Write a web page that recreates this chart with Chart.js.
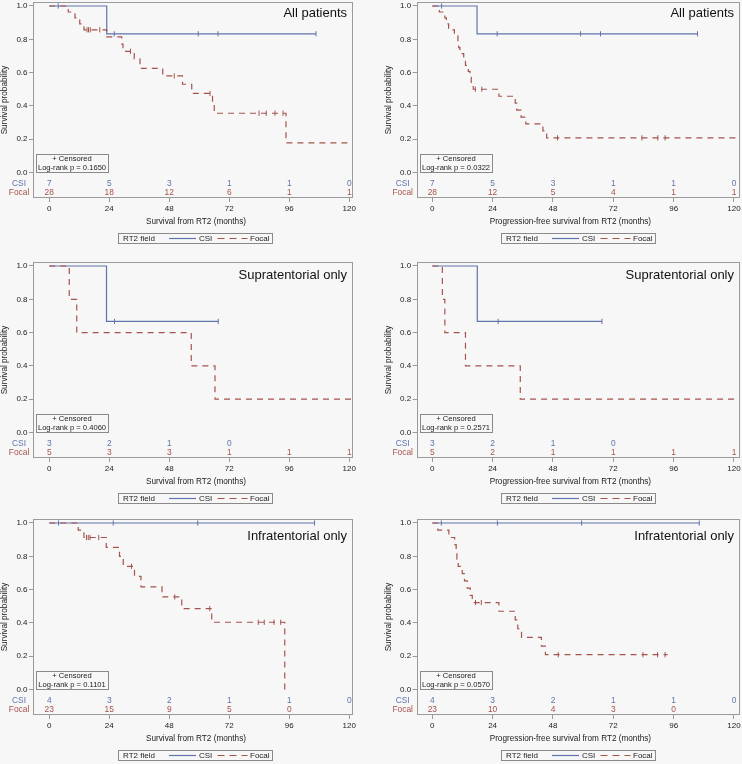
<!DOCTYPE html>
<html lang="en">
<head>
<meta charset="UTF-8">
<title>Survival from RT2 by RT2 field</title>
<script src="https://cdn.jsdelivr.net/npm/chart.js"></script>
<style>
  html, body { margin: 0; padding: 0; background: #f7f7f7; overflow: hidden; }
  #page { position: relative; width: 742px; height: 764px; }
  #page canvas { position: absolute; }
</style>
</head>
<body>
<div id="page"></div>
<script>
// shared axes
const xTicks = [0, 24, 48, 72, 96, 120];
const yTicks = [0, 0.2, 0.4, 0.6, 0.8, 1.0];
const riskTimes = [0, 24, 48, 72, 96, 120];

// A: survival, all patients
const aCsiTime = [0, 23];
const aCsiSurv = [1, 0.833];
const aCsiEnd = 106.7;
const aCsiCens = [3.6, 26, 59.6, 67.5, 106.7];
const aFocalTime = [0, 7.6, 10.3, 12.2, 13.9, 23, 29, 29.5, 34, 36.3, 45.4, 53.3, 57, 65.3, 66, 94.7];
const aFocalSurv = [1, 0.964, 0.929, 0.893, 0.857, 0.814, 0.771, 0.728, 0.683, 0.625, 0.58, 0.53, 0.475, 0.415, 0.356, 0.178];
const aFocalEnd = 121;
const aFocalCens = [15.1, 15.7, 16.4, 20.2, 32.5, 50, 64.3, 83.9, 86.8, 90.3, 93.5];
const aRiskCsi = [7, 5, 3, 1, 1, 0];
const aRiskFocal = [28, 18, 12, 6, 1, 1];

// B: progression-free survival, all patients
const bCsiTime = [0, 17.8];
const bCsiSurv = [1, 0.833];
const bCsiEnd = 105.5;
const bCsiCens = [3.7, 25.8, 59, 66.9, 105.5];
const bFocalTime = [0, 2.8, 5.0, 5.6, 6.5, 8.8, 10.2, 10.5, 11.0, 12.5, 13.2, 14.3, 15.0, 15.5, 16.3, 26.5, 33, 33.6, 35.3, 37.2, 44, 45.5];
const bFocalSurv = [1, 0.964, 0.929, 0.893, 0.857, 0.821, 0.786, 0.75, 0.714, 0.679, 0.643, 0.607, 0.571, 0.536, 0.5, 0.458, 0.417, 0.375, 0.333, 0.292, 0.25, 0.208];
const bFocalEnd = 122.4;
const bFocalCens = [17.1, 19.7, 49.8, 83.4, 89.7, 92.6];
const bRiskCsi = [7, 5, 3, 1, 1, 0];
const bRiskFocal = [28, 12, 5, 4, 1, 1];

// C: survival, supratentorial only
const cCsiTime = [0, 22.9];
const cCsiSurv = [1, 0.667];
const cCsiEnd = 67.6;
const cCsiCens = [26.1, 67.6];
const cFocalTime = [0, 8, 11, 56.8, 66.3];
const cFocalSurv = [1, 0.8, 0.6, 0.4, 0.2];
const cFocalEnd = 121.5;
const cFocalCens = [];
const cRiskCsi = [3, 2, 1, 0, null, null];
const cRiskFocal = [5, 3, 3, 1, 1, 1];

// D: progression-free survival, supratentorial only
const dCsiTime = [0, 17.9];
const dCsiSurv = [1, 0.667];
const dCsiEnd = 67.5;
const dCsiCens = [26.2, 67.5];
const dFocalTime = [0, 4, 5, 13.2, 35];
const dFocalSurv = [1, 0.8, 0.6, 0.4, 0.2];
const dFocalEnd = 122.4;
const dFocalCens = [];
const dRiskCsi = [3, 2, 1, 0, null, null];
const dRiskFocal = [5, 2, 1, 1, 1, 1];

// E: survival, infratentorial only
const eCsiTime = [0];
const eCsiSurv = [1];
const eCsiEnd = 106.1;
const eCsiCens = [3.7, 25.6, 59.4, 106.1];
const eFocalTime = [0, 11.6, 13.9, 22.8, 28.1, 29.6, 34.1, 36.7, 45.1, 53, 65, 94.2];
const eFocalSurv = [1, 0.957, 0.913, 0.854, 0.8, 0.74, 0.68, 0.616, 0.556, 0.486, 0.404, 0];
const eFocalEnd = 94.2;
const eFocalCens = [14.9, 15.6, 16.3, 19.8, 32.9, 50.2, 64.2, 83.6, 86, 89.9, 92.6];
const eRiskCsi = [4, 3, 2, 1, 1, 0];
const eRiskFocal = [23, 15, 9, 5, 0, null];

// F: progression-free survival, infratentorial only
const fCsiTime = [0];
const fCsiSurv = [1];
const fCsiEnd = 106.2;
const fCsiCens = [3.6, 25.9, 59.4, 106.2];
const fFocalTime = [0, 2.2, 6.6, 8.9, 9.5, 9.8, 10.3, 11.9, 12.8, 13.9, 15.1, 15.9, 26.5, 33, 34, 35.5, 43.4, 45];
const fFocalSurv = [1, 0.957, 0.913, 0.870, 0.826, 0.783, 0.739, 0.696, 0.652, 0.609, 0.565, 0.522, 0.47, 0.418, 0.365, 0.313, 0.261, 0.209];
const fFocalEnd = 93.6;
const fFocalCens = [17.2, 19.5, 50.1, 83.8, 89.6, 92.6];
const fRiskCsi = [4, 3, 2, 1, 1, 0];
const fRiskFocal = [23, 10, 4, 3, 0, null];

const osTitle = 'Survival from RT2 (months)';
const pfsTitle = 'Progression-free survival from RT2 (months)';

const panels = [
  { title: 'All patients', p: '0.1650', xTitle: osTitle,
    csi: [aCsiTime, aCsiSurv, aCsiEnd, aCsiCens], focal: [aFocalTime, aFocalSurv, aFocalEnd, aFocalCens], risk: [aRiskCsi, aRiskFocal] },
  { title: 'All patients', p: '0.0322', xTitle: pfsTitle,
    csi: [bCsiTime, bCsiSurv, bCsiEnd, bCsiCens], focal: [bFocalTime, bFocalSurv, bFocalEnd, bFocalCens], risk: [bRiskCsi, bRiskFocal] },
  { title: 'Supratentorial only', p: '0.4060', xTitle: osTitle,
    csi: [cCsiTime, cCsiSurv, cCsiEnd, cCsiCens], focal: [cFocalTime, cFocalSurv, cFocalEnd, cFocalCens], risk: [cRiskCsi, cRiskFocal] },
  { title: 'Supratentorial only', p: '0.2571', xTitle: pfsTitle,
    csi: [dCsiTime, dCsiSurv, dCsiEnd, dCsiCens], focal: [dFocalTime, dFocalSurv, dFocalEnd, dFocalCens], risk: [dRiskCsi, dRiskFocal] },
  { title: 'Infratentorial only', p: '0.1101', xTitle: osTitle,
    csi: [eCsiTime, eCsiSurv, eCsiEnd, eCsiCens], focal: [eFocalTime, eFocalSurv, eFocalEnd, eFocalCens], risk: [eRiskCsi, eRiskFocal] },
  { title: 'Infratentorial only', p: '0.0570', xTitle: pfsTitle,
    csi: [fCsiTime, fCsiSurv, fCsiEnd, fCsiCens], focal: [fFocalTime, fFocalSurv, fFocalEnd, fFocalCens], risk: [fRiskCsi, fRiskFocal] }
];

const csiColor = '#6174ab';
const focalColor = '#a5534d';
const inkColor = '#222';
const frameColor = '#9a9a9a';
const fontFamily = '"Liberation Sans", Arial, sans-serif';
const rowTops = [0, 260, 517];
const titleDrop = [14.5, 17, 20.5];
const xRange = [[-6.5, 121.5], [-6.2, 122.4]];   // left column, right column
const xTitleShift = [3, -8];

Chart.defaults.font.family = fontFamily;
Chart.defaults.font.size = 8;
Chart.defaults.color = inkColor;

// step curve points, held flat up to the last follow-up time
function curvePoints(T, S, end) {
  const pts = T.map((t, i) => ({ x: t, y: S[i] }));
  if (end > T[T.length - 1]) pts.push({ x: end, y: S[S.length - 1] });
  return pts;
}

// censor marks sit on the curve
function censorPoints(T, S, cens) {
  return cens.map(c => {
    let s = S[0];
    T.forEach((t, i) => { if (t <= c) s = S[i]; });
    return { x: c, y: s };
  });
}

const kmDecor = {
  id: 'kmDecor',
  afterDraw(chart, args, o) {
    const { ctx, chartArea: a } = chart;
    const x = chart.scales.x, y = chart.scales.y;
    ctx.save();

    // frame round the plot and the at-risk table
    ctx.strokeStyle = frameColor;
    ctx.lineWidth = 1;
    ctx.strokeRect(Math.round(a.left) + 0.5, Math.round(a.top) + 0.5, Math.round(a.width) - 1, Math.round(a.height) - 1);

    // panel title
    ctx.fillStyle = '#111';
    ctx.font = '13px ' + fontFamily;
    ctx.textAlign = 'right';
    ctx.textBaseline = 'alphabetic';
    ctx.fillText(o.title, a.right - 6, a.top + o.titleDrop);

    // x axis title
    ctx.fillStyle = inkColor;
    ctx.font = '8.2px ' + fontFamily;
    ctx.textAlign = 'center';
    ctx.textBaseline = 'middle';
    ctx.fillText(o.xTitle, (a.left + a.right) / 2 + o.xShift, a.bottom + 24);

    // censored / log-rank box
    const bx = Math.round(a.left + 3), by = Math.round(y.getPixelForValue(0) - 18.5);
    ctx.strokeStyle = '#8a8a8a';
    ctx.strokeRect(bx + 0.5, by + 0.5, 72, 18);
    ctx.font = '7.6px ' + fontFamily;
    ctx.fillText('+ Censored', bx + 36, by + 5);
    ctx.fillText('Log-rank p = ' + o.p, bx + 36, by + 14);

    // numbers at risk
    ctx.font = '8.4px ' + fontFamily;
    const rows = [
      { label: 'CSI', vals: o.risk[0], color: csiColor, v: -0.069 },
      { label: 'Focal', vals: o.risk[1], color: focalColor, v: -0.123 }
    ];
    rows.forEach(r => {
      const py = y.getPixelForValue(r.v);
      ctx.fillStyle = r.color;
      ctx.fillText(r.label, a.left - 14, py);
      r.vals.forEach((n, i) => {
        if (n !== null) ctx.fillText(String(n), x.getPixelForValue(riskTimes[i]), py);
      });
    });

    // legend under the axis
    const lw = 154, lh = 10;
    const lx = Math.round(a.left + 84.5), ly = 233;
    ctx.strokeStyle = '#8a8a8a';
    ctx.strokeRect(lx + 0.5, ly + 0.5, lw, lh);
    ctx.fillStyle = inkColor;
    ctx.font = '8px ' + fontFamily;
    ctx.textAlign = 'left';
    ctx.fillText('RT2 field', lx + 5, ly + 5.5);
    ctx.lineWidth = 1.2;
    ctx.strokeStyle = csiColor;
    ctx.beginPath(); ctx.moveTo(lx + 51, ly + 5.5); ctx.lineTo(lx + 78, ly + 5.5); ctx.stroke();
    ctx.fillText('CSI', lx + 81, ly + 5.5);
    ctx.strokeStyle = focalColor;
    ctx.setLineDash([7, 5]);
    ctx.beginPath(); ctx.moveTo(lx + 99.5, ly + 5.5); ctx.lineTo(lx + 129.5, ly + 5.5); ctx.stroke();
    ctx.setLineDash([]);
    ctx.fillText('Focal', lx + 132, ly + 5.5);

    ctx.restore();
  }
};

const page = document.getElementById('page');

panels.forEach((p, k) => {
  const col = k % 2, row = Math.floor(k / 2);
  const canvas = document.createElement('canvas');
  canvas.width = 371;
  canvas.height = 250;
  canvas.style.left = (col * 371) + 'px';
  canvas.style.top = rowTops[row] + 'px';
  page.appendChild(canvas);

  const [cT, cS, cEnd, cCens] = p.csi;
  const [fT, fS, fEnd, fCens] = p.focal;

  new Chart(canvas, {
    type: 'scatter',
    data: {
      datasets: [
        { data: curvePoints(fT, fS, fEnd), showLine: true, stepped: 'before', borderColor: focalColor,
          borderWidth: 1.2, borderDash: [6, 5], pointRadius: 0, fill: false },
        { data: curvePoints(cT, cS, cEnd), showLine: true, stepped: 'before', borderColor: csiColor,
          borderWidth: 1.2, pointRadius: 0, fill: false },
        { data: censorPoints(fT, fS, fCens), showLine: false, pointStyle: 'line', rotation: 90,
          pointRadius: 2.6, borderColor: focalColor, borderWidth: 1 },
        { data: censorPoints(cT, cS, cCens), showLine: false, pointStyle: 'line', rotation: 90,
          pointRadius: 2.6, borderColor: csiColor, borderWidth: 1 }
      ]
    },
    options: {
      responsive: false,
      animation: false,
      events: [],
      layout: { autoPadding: false, padding: { top: 2, bottom: 22, left: 0, right: col ? 2 : 18 } },
      plugins: {
        legend: { display: false },
        tooltip: { enabled: false },
        kmDecor: { title: p.title, p: p.p, risk: p.risk, titleDrop: titleDrop[row],
                   xTitle: p.xTitle, xShift: xTitleShift[col] }
      },
      scales: {
        x: {
          type: 'linear', min: xRange[col][0], max: xRange[col][1],
          afterBuildTicks: s => { s.ticks = xTicks.map(v => ({ value: v })); },
          afterFit: s => { s.height = 30; s.paddingLeft = 0; s.paddingRight = 0; },
          ticks: { padding: 2, autoSkip: false, maxRotation: 0, color: inkColor },
          grid: { drawOnChartArea: false, tickLength: 4, color: frameColor },
          border: { display: false },
          title: { display: false }
        },
        y: {
          type: 'linear', min: -0.153, max: 1.024,
          afterBuildTicks: s => { s.ticks = yTicks.map(v => ({ value: v })); },
          afterFit: s => { s.width = col ? 45.7 : 33; s.paddingTop = 0; s.paddingBottom = 0; },
          ticks: { padding: 1.5, color: inkColor, callback: v => Number(v).toFixed(1) },
          grid: { drawOnChartArea: false, tickLength: 4, color: frameColor },
          border: { display: false },
          title: { display: true, text: 'Survival probability', color: inkColor, font: { size: 8.2 },
                   padding: { top: col ? 12.6 : 0, bottom: 0 } }
        }
      }
    },
    plugins: [kmDecor]
  });
});
</script>
</body>
</html>
